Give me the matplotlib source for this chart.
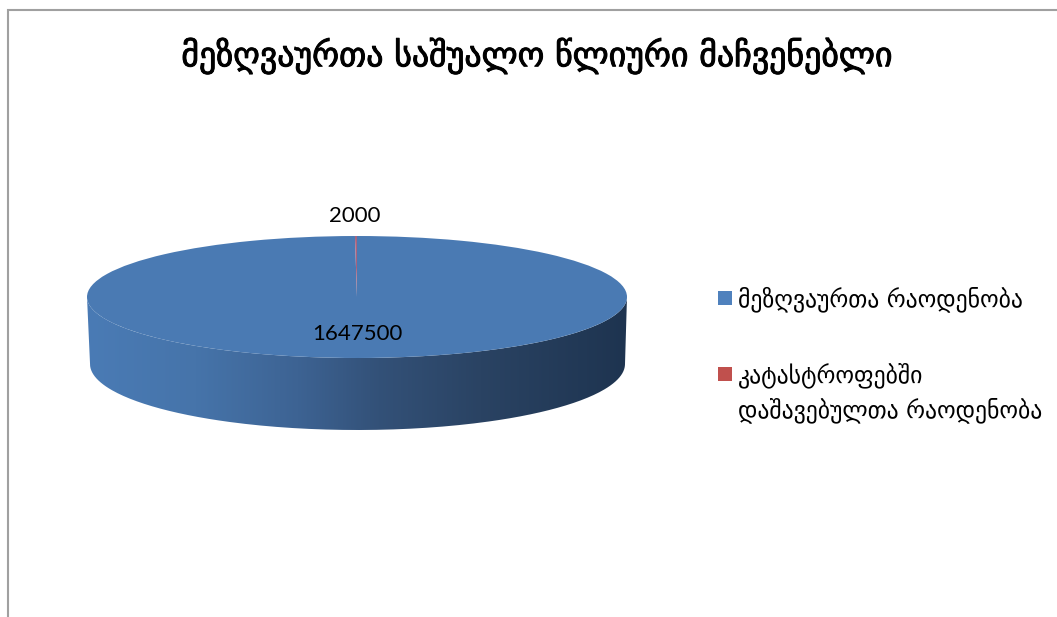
import numpy as np
import matplotlib
matplotlib.use("Agg")
import matplotlib.pyplot as plt
import matplotlib.patheffects as pe
from matplotlib.colors import LinearSegmentedColormap
from matplotlib.patches import PathPatch, Rectangle
from matplotlib.path import Path


WIDTH = 1057
HEIGHT = 617

TITLE = "მეზღვაურთა საშუალო წლიური მაჩვენებლი"
CATEGORIES = ["მეზღვაურთა რაოდენობა", "კატასტროფებში\nდაშავებულთა რაოდენობა"]
VALUES = [1647500, 2000]
TOP_COLORS = ["#4a7ab3", "#a8627e"]
LEGEND_COLORS = ["#4f81bd", "#c0504d"]
SIDE_STOPS = [0.0, 0.2, 0.39, 0.54, 0.73, 1.0]
SIDE_COLORS = ["#4a7bb5", "#4674aa", "#3d6393", "#335178", "#2a4363", "#1e3450"]
LABEL_FONT = "Lato"

fig = plt.figure(figsize=(WIDTH / 100, HEIGHT / 100), dpi=100)

# background axes works in image pixels
bg = fig.add_axes([0, 0, 1, 1])
bg.set_xlim(0, WIDTH)
bg.set_ylim(HEIGHT, 0)
bg.axis("off")

# chart frame, only the top and left edge are inside the picture
bg.plot([WIDTH, 7.5, 7.5], [9.5, 9.5, HEIGHT], color="#a0a0a0", lw=1.5, solid_joinstyle="miter")

# side of the disc: gradient clipped to the area between two half ellipses
t = np.linspace(0, np.pi, 200)
top_x = 357 + 270 * np.cos(t)
top_y = 297 + 61 * np.sin(t)
low_x = 357.5 + 267.5 * np.cos(t[::-1])
low_y = 364 + 66 * np.sin(t[::-1])
side_path = Path(np.column_stack([np.r_[top_x, low_x], np.r_[top_y, low_y]]))
side_cmap = LinearSegmentedColormap.from_list("side", list(zip(SIDE_STOPS, SIDE_COLORS)))
side = bg.imshow(
    np.linspace(0, 1, 256)[None, :],
    cmap=side_cmap,
    extent=[87, 627, 430, 297],
    aspect="auto",
    zorder=1,
)
side_clip = PathPatch(side_path, transform=bg.transData, fc="none", ec="none")
bg.add_patch(side_clip)
side.set_clip_path(side_clip)
bg.set_xlim(0, WIDTH)
bg.set_ylim(HEIGHT, 0)

# top of the disc: ordinary pie squeezed into an ellipse
pie_ax = fig.add_axes([87 / WIDTH, 1 - 358 / HEIGHT, 540 / WIDTH, 122 / HEIGHT])
wedges, _ = pie_ax.pie(VALUES, colors=TOP_COLORS, startangle=90, counterclock=False, radius=1)
pie_ax.set_aspect("auto")
pie_ax.set_xlim(-1, 1)
pie_ax.set_ylim(-1, 1)

bg.set_zorder(0)
pie_ax.set_zorder(1)

# text goes on an overlay so it sits above the pie
over = fig.add_axes([0, 0, 1, 1], zorder=2)
over.set_xlim(0, WIDTH)
over.set_ylim(HEIGHT, 0)
over.axis("off")

title = over.text(537, 56, TITLE, fontsize=24.4, ha="center", va="center", family="DejaVu Sans", color="black")
title.set_path_effects([pe.withStroke(linewidth=0.7, foreground="black")])
over.text(355, 216, str(VALUES[1]), fontsize=16, ha="center", va="center", family=LABEL_FONT, color="black")
over.text(357, 334, str(VALUES[0]), fontsize=16, ha="center", va="center", family=LABEL_FONT, color="black")

# legend by hand, the marker sits on the first line of a wrapped label
legend_y = [298, 374]
for label, color, y in zip(CATEGORIES, LEGEND_COLORS, legend_y):
    over.add_patch(Rectangle((718, y - 7), 14, 14, fc=color, ec="none"))
    over.text(738, y - 12, label, fontsize=17.1, ha="left", va="top", family="DejaVu Sans",
              color="black", linespacing=1.5)

fig.savefig("out.png", dpi=100)
